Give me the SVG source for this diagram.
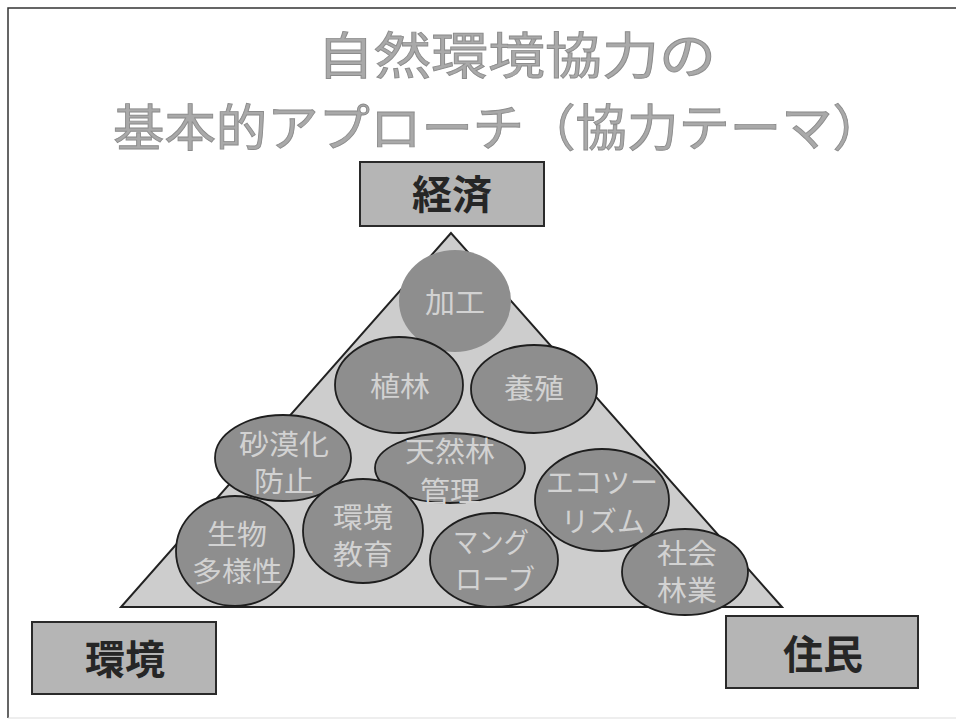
<svg xmlns="http://www.w3.org/2000/svg" width="956" height="723" viewBox="0 0 956 723">
<style>
.title{font-family:"Noto Sans CJK JP","Noto Sans CJK SC",sans-serif;font-size:50px;fill:#a9a9a9;stroke:#8c8c8c;stroke-width:0.9;}
.box{fill:#b5b5b5;stroke:#2a2a2a;stroke-width:2;}
.boxt{font-family:"Noto Sans CJK JP","Noto Sans CJK SC",sans-serif;font-size:40px;font-weight:bold;fill:#262626;text-anchor:middle;}
.el{fill:#8e8e8e;stroke:#1e1e1e;stroke-width:1.8;}
.elt{font-family:"Noto Sans CJK JP","Noto Sans CJK SC",sans-serif;font-size:28px;fill:#d2d2d2;text-anchor:middle;}
</style>
<rect x="0" y="0" width="956" height="723" fill="#ffffff"/>
<path d="M8,718 V8 H956" fill="none" stroke="#333" stroke-width="1.5"/>
<line x1="8" y1="718" x2="956" y2="718" stroke="#ddd" stroke-width="1"/>
<g id="title">
<text class="title" x="317" y="74" textLength="399" lengthAdjust="spacingAndGlyphs">自然環境協力の</text>
<text class="title" x="113" y="146" textLength="771" lengthAdjust="spacingAndGlyphs">基本的アプローチ（協力テーマ）</text>
</g>
<g id="triangle">
<polygon points="451,233 121,607 782,607" fill="#cdcdcd" stroke="#222" stroke-width="2"/>
</g>
<g id="kako">
<ellipse cx="455" cy="301" rx="56" ry="51" fill="#8e8e8e"/>
<text class="elt" x="455" y="313" textLength="60" lengthAdjust="spacingAndGlyphs">加工</text>
</g>
<g id="shokurin">
<ellipse class="el" cx="399" cy="385" rx="64" ry="48"/>
<text class="elt" x="400" y="397" textLength="60" lengthAdjust="spacingAndGlyphs">植林</text>
</g>
<g id="yoshoku">
<ellipse class="el" cx="534" cy="389" rx="63" ry="44"/>
<text class="elt" x="534" y="399" textLength="60" lengthAdjust="spacingAndGlyphs">養殖</text>
</g>
<g id="sabakuka">
<ellipse class="el" cx="283" cy="458" rx="68" ry="43"/>
<text class="elt" x="284" y="455" textLength="90" lengthAdjust="spacingAndGlyphs">砂漠化</text>
<text class="elt" x="284" y="492" textLength="60" lengthAdjust="spacingAndGlyphs">防止</text>
</g>
<g id="tennenrin">
<ellipse class="el" cx="450" cy="468" rx="75" ry="35"/>
<text class="elt" x="450" y="462" textLength="90" lengthAdjust="spacingAndGlyphs">天然林</text>
<text class="elt" x="450" y="502" textLength="60" lengthAdjust="spacingAndGlyphs">管理</text>
</g>
<g id="ecotourism">
<ellipse class="el" cx="602" cy="500" rx="67" ry="51"/>
<text class="elt" x="602" y="493" textLength="112" lengthAdjust="spacingAndGlyphs">エコツー</text>
<text class="elt" x="603" y="532" textLength="84" lengthAdjust="spacingAndGlyphs">リズム</text>
</g>
<g id="seibutsu">
<ellipse class="el" cx="235" cy="551" rx="59" ry="55"/>
<text class="elt" x="237" y="545" textLength="60" lengthAdjust="spacingAndGlyphs">生物</text>
<text class="elt" x="237" y="582" textLength="90" lengthAdjust="spacingAndGlyphs">多様性</text>
</g>
<g id="kankyokyoiku">
<ellipse class="el" cx="363" cy="531" rx="60" ry="52"/>
<text class="elt" x="363" y="528" textLength="60" lengthAdjust="spacingAndGlyphs">環境</text>
<text class="elt" x="363" y="565" textLength="60" lengthAdjust="spacingAndGlyphs">教育</text>
</g>
<g id="mangrove">
<ellipse class="el" cx="494" cy="560" rx="64" ry="47"/>
<text class="elt" x="491" y="553" textLength="76" lengthAdjust="spacingAndGlyphs">マング</text>
<text class="elt" x="495" y="590" textLength="80" lengthAdjust="spacingAndGlyphs">ローブ</text>
</g>
<g id="shakairingyo">
<ellipse class="el" cx="685" cy="572" rx="63" ry="43"/>
<text class="elt" x="687" y="564" textLength="60" lengthAdjust="spacingAndGlyphs">社会</text>
<text class="elt" x="687" y="601" textLength="60" lengthAdjust="spacingAndGlyphs">林業</text>
</g>
<g id="keizai">
<rect class="box" x="360" y="162" width="184" height="64"/>
<text class="boxt" x="452" y="209">経済</text>
</g>
<g id="kankyo">
<rect class="box" x="32" y="622" width="184" height="72"/>
<text class="boxt" x="125" y="674">環境</text>
</g>
<g id="jumin">
<rect class="box" x="726" y="616" width="192" height="72"/>
<text class="boxt" x="823" y="669">住民</text>
</g>
<g id="connectors"></g>
</svg>
